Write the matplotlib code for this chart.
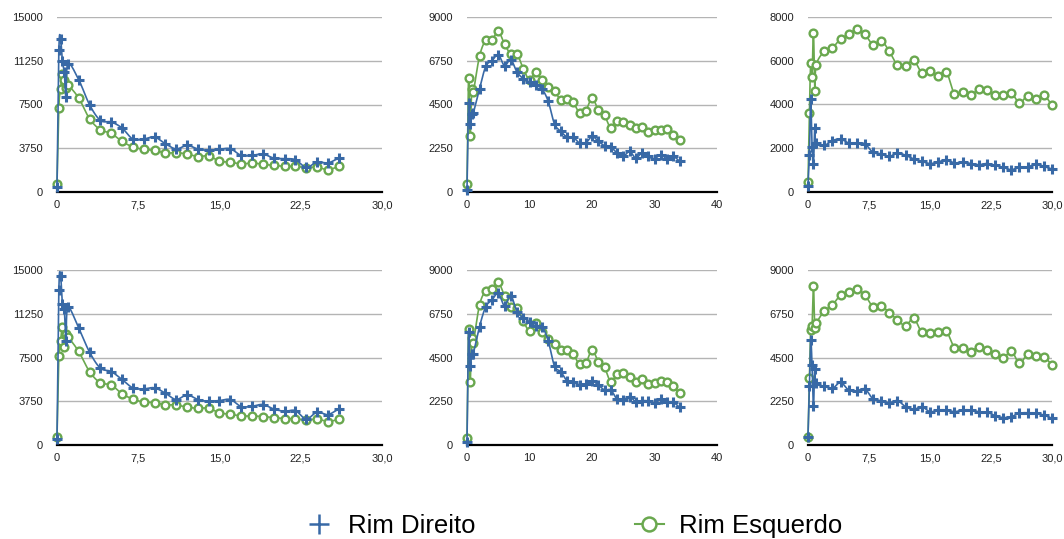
import matplotlib
matplotlib.use('Agg')
import numpy as np
import matplotlib.pyplot as plt
from matplotlib.lines import Line2D

plt.rcParams['font.family'] = ['Liberation Sans', 'DejaVu Sans']

BLUE = '#3869a6'
GREEN = '#6aa84f'

series_names = ['Rim Direito', 'Rim Esquerdo']

# time points (minutes)
time_26 = [0, 0.17, 0.33, 0.5, 0.67, 0.83, 1, 2, 3, 4, 5, 6, 7, 8, 9, 10, 11, 12, 13, 14,
           15, 16, 17, 18, 19, 20, 21, 22, 23, 24, 25, 26]
time_34 = [0, 0.25, 0.5, 0.75, 1, 2, 3, 4, 5, 6, 7, 8, 9, 10, 11, 12, 13, 14, 15, 16, 17,
           18, 19, 20, 21, 22, 23, 24, 25, 26, 27, 28, 29, 30, 31, 32, 33, 34]
time_30 = [0, 0.17, 0.33, 0.5, 0.67, 0.83, 1, 2, 3, 4, 5, 6, 7, 8, 9, 10, 11, 12, 13, 14,
           15, 16, 17, 18, 19, 20, 21, 22, 23, 24, 25, 26, 27, 28, 29, 30]

# Panel 1 (top-left)
p1_direito = [460, 12140, 13140, 11200, 10300, 8140, 11000, 9630, 7490, 6140, 6000, 5490,
              4540, 4540, 4710, 4140, 3690, 4000, 3690, 3570, 3660, 3710, 3140, 3140, 3260,
              2910, 2860, 2770, 2110, 2570, 2490, 2910]
p1_esquerdo = [690, 7230, 8830, 10140, 9600, 8900, 9170, 8060, 6290, 5340, 5030, 4340, 3860,
               3660, 3570, 3340, 3370, 3260, 3030, 3110, 2630, 2570, 2400, 2490, 2370, 2290,
               2200, 2200, 2090, 2140, 1910, 2200]
# Panel 2 (top-middle)
p2_direito = [120, 4580, 3510, 4030, 4060, 5300, 6460, 6750, 7060, 6500, 6810, 6170, 5830,
              5640, 5490, 5300, 4660, 3500, 3120, 2830, 2810, 2520, 2520, 2860, 2610, 2380,
              2310, 2010, 1830, 2090, 1750, 2010, 1830, 1710, 1920, 1710, 1830, 1580]
p2_esquerdo = [410, 5860, 2900, 5300, 5130, 6980, 7800, 7830, 8260, 7610, 7100, 7100, 6340,
               5780, 6150, 5740, 5400, 5180, 4750, 4800, 4610, 4060, 4180, 4830, 4230, 3940,
               3290, 3630, 3580, 3460, 3290, 3340, 3090, 3210, 3210, 3240, 2950, 2660]
# Panel 3 (top-right)
p3_direito = [290, 1690, 4240, 2070, 1280, 2910, 2230, 2130, 2350, 2420, 2240, 2240, 2200,
              1810, 1750, 1630, 1780, 1680, 1510, 1400, 1300, 1370, 1480, 1330, 1370, 1300,
              1250, 1300, 1220, 1130, 1020, 1140, 1140, 1280, 1170, 1050]
p3_esquerdo = [470, 3600, 5880, 5270, 7290, 4630, 5800, 6430, 6590, 7000, 7200, 7450, 7200,
               6740, 6920, 6430, 5790, 5780, 6020, 5440, 5550, 5320, 5500, 4480, 4560, 4420,
               4710, 4680, 4420, 4420, 4530, 4070, 4410, 4270, 4420, 3960]
# Panel 4 (bottom-left)
p4_direito = [520, 13300, 14500, 12100, 11700, 8900, 11800, 10030, 7970, 6590, 6300, 5620,
              4900, 4810, 4900, 4440, 3900, 4300, 3900, 3750, 3810, 3900, 3300, 3320, 3470,
              3090, 2890, 2950, 2230, 2810, 2610, 3090]
p4_esquerdo = [660, 7600, 8900, 10100, 8400, 9500, 9300, 8020, 6300, 5330, 5160, 4380, 3950,
               3670, 3640, 3440, 3440, 3240, 3150, 3150, 2750, 2640, 2490, 2490, 2440, 2350,
               2260, 2260, 2120, 2230, 2010, 2210]
# Panel 5 (bottom-middle)
p5_direito = [140, 5830, 4080, 4660, 4700, 6090, 7110, 7460, 7800, 7170, 7680, 6860, 6550,
              6340, 6120, 6090, 5350, 4060, 3770, 3310, 3260, 3090, 3120, 3290, 3090, 2830,
              2830, 2370, 2310, 2490, 2230, 2280, 2260, 2140, 2350, 2190, 2190, 1940]
p5_esquerdo = [380, 5970, 3260, 5520, 5260, 7200, 7920, 8010, 8370, 7680, 7110, 7060, 6390,
               5860, 6260, 5830, 5450, 5180, 4890, 4890, 4660, 4150, 4200, 4890, 4290, 3990,
               3260, 3650, 3690, 3510, 3260, 3390, 3120, 3170, 3290, 3260, 3030, 2660]
# Panel 6 (bottom-right)
p6_direito = [430, 3050, 5400, 4110, 2020, 3910, 3170, 3030, 2910, 3220, 2830, 2790, 2880,
              2370, 2280, 2180, 2280, 1970, 1830, 1970, 1710, 1800, 1800, 1710, 1800, 1800,
              1710, 1680, 1510, 1410, 1460, 1630, 1660, 1630, 1540, 1370]
p6_esquerdo = [430, 3430, 5910, 6140, 8190, 6040, 6260, 6890, 7200, 7710, 7890, 8020, 7710,
               7110, 7150, 6810, 6430, 6140, 6510, 5790, 5740, 5810, 5860, 5010, 4970, 4800,
               5060, 4890, 4660, 4460, 4830, 4200, 4680, 4590, 4540, 4110]

# tick labels
yticks_15000 = [0, 3750, 7500, 11250, 15000]
yticks_9000 = [0, 2250, 4500, 6750, 9000]
yticks_8000 = [0, 2000, 4000, 6000, 8000]
xticks_30 = [0, 7.5, 15, 22.5, 30]
xlabels_30 = ['0', '7,5', '15,0', '22,5', '30,0']
xticks_40 = [0, 10, 20, 30, 40]
xlabels_40 = ['0', '10', '20', '30', '40']

W, H = 1064, 539
fig = plt.figure(figsize=(W / 100, H / 100), dpi=100)


def smooth_path(ax, xs, ys, n=12):
    """Catmull-Rom curve through the data points, computed in display space."""
    pts = ax.transData.transform(np.column_stack([xs, ys]))
    out = [pts[0]]
    m = len(pts)
    for i in range(m - 1):
        p0 = pts[i - 1] if i > 0 else pts[i]
        p1 = pts[i]
        p2 = pts[i + 1]
        p3 = pts[i + 2] if i + 2 < m else pts[i + 1]
        c1 = p1 + (p2 - p0) / 6.0
        c2 = p2 - (p3 - p1) / 6.0
        s = np.linspace(0, 1, n + 1)[1:, None]
        seg = ((1 - s) ** 3) * p1 + 3 * ((1 - s) ** 2) * s * c1 + 3 * (1 - s) * s ** 2 * c2 + s ** 3 * p2
        out.extend(seg)
    out = np.array(out)
    data = ax.transData.inverted().transform(out)
    return data[:, 0], data[:, 1]


panels = [
    ((57, 382, 17, 192), time_26, p1_direito, p1_esquerdo, xticks_30, xlabels_30, yticks_15000),
    ((467, 717, 17, 192), time_34, p2_direito, p2_esquerdo, xticks_40, xlabels_40, yticks_9000),
    ((808, 1052, 17, 192), time_30, p3_direito, p3_esquerdo, xticks_30, xlabels_30, yticks_8000),
    ((57, 382, 270, 445), time_26, p4_direito, p4_esquerdo, xticks_30, xlabels_30, yticks_15000),
    ((467, 717, 270, 445), time_34, p5_direito, p5_esquerdo, xticks_40, xlabels_40, yticks_9000),
    ((808, 1052, 270, 445), time_30, p6_direito, p6_esquerdo, xticks_30, xlabels_30, yticks_9000),
]

for (l, r, t, b), tm, dir_vals, esq_vals, xt, xl, yt in panels:
    ax = fig.add_axes([l / W, 1 - b / H, (r - l) / W, (b - t) / H])
    ax.set_xlim(xt[0], xt[-1])
    ax.set_ylim(yt[0], yt[-1])
    for vals, color, z in [(esq_vals, GREEN, 3), (dir_vals, BLUE, 5)]:
        sx, sy = smooth_path(ax, tm, vals)
        ax.plot(sx, sy, color=color, lw=1.2, clip_on=False, zorder=z)
    ax.plot(tm, esq_vals, ls='none', marker='o', ms=5.6, mfc='white',
            mec=GREEN, mew=1.7, clip_on=False, zorder=4)
    ax.plot(tm, dir_vals, ls='none', color=BLUE, marker='+', ms=7, mew=2.2,
            clip_on=False, zorder=6)
    ax.set_xticks(xt)
    ax.set_xticklabels(xl)
    ax.set_yticks(yt)
    ax.set_yticklabels([str(v) for v in yt])
    for s in ['top', 'right', 'left']:
        ax.spines[s].set_visible(False)
    ax.spines['bottom'].set_color('black')
    ax.spines['bottom'].set_linewidth(1.6)
    ax.spines['bottom'].set_zorder(2)
    ax.grid(axis='y', color='#b4b4b4', lw=1.0)
    ax.set_axisbelow(True)
    ax.tick_params(length=0, labelsize=8, colors='#222222')
    ax.tick_params(axis='y', pad=10)
    ax.tick_params(axis='x', pad=6)

handles = [
    Line2D([], [], color=BLUE, lw=0, marker='+', ms=14, mew=1.8),
    Line2D([], [], color=GREEN, lw=1.5, marker='o', ms=10, mfc='white', mec=GREEN, mew=1.8),
]
fig.legend(handles, series_names, loc='center', bbox_to_anchor=(0.539, 0.025), ncol=2,
           frameon=False, fontsize=18.5, handlelength=1.1, handletextpad=0.6,
           columnspacing=6.2)

fig.savefig('out.png', dpi=100)
